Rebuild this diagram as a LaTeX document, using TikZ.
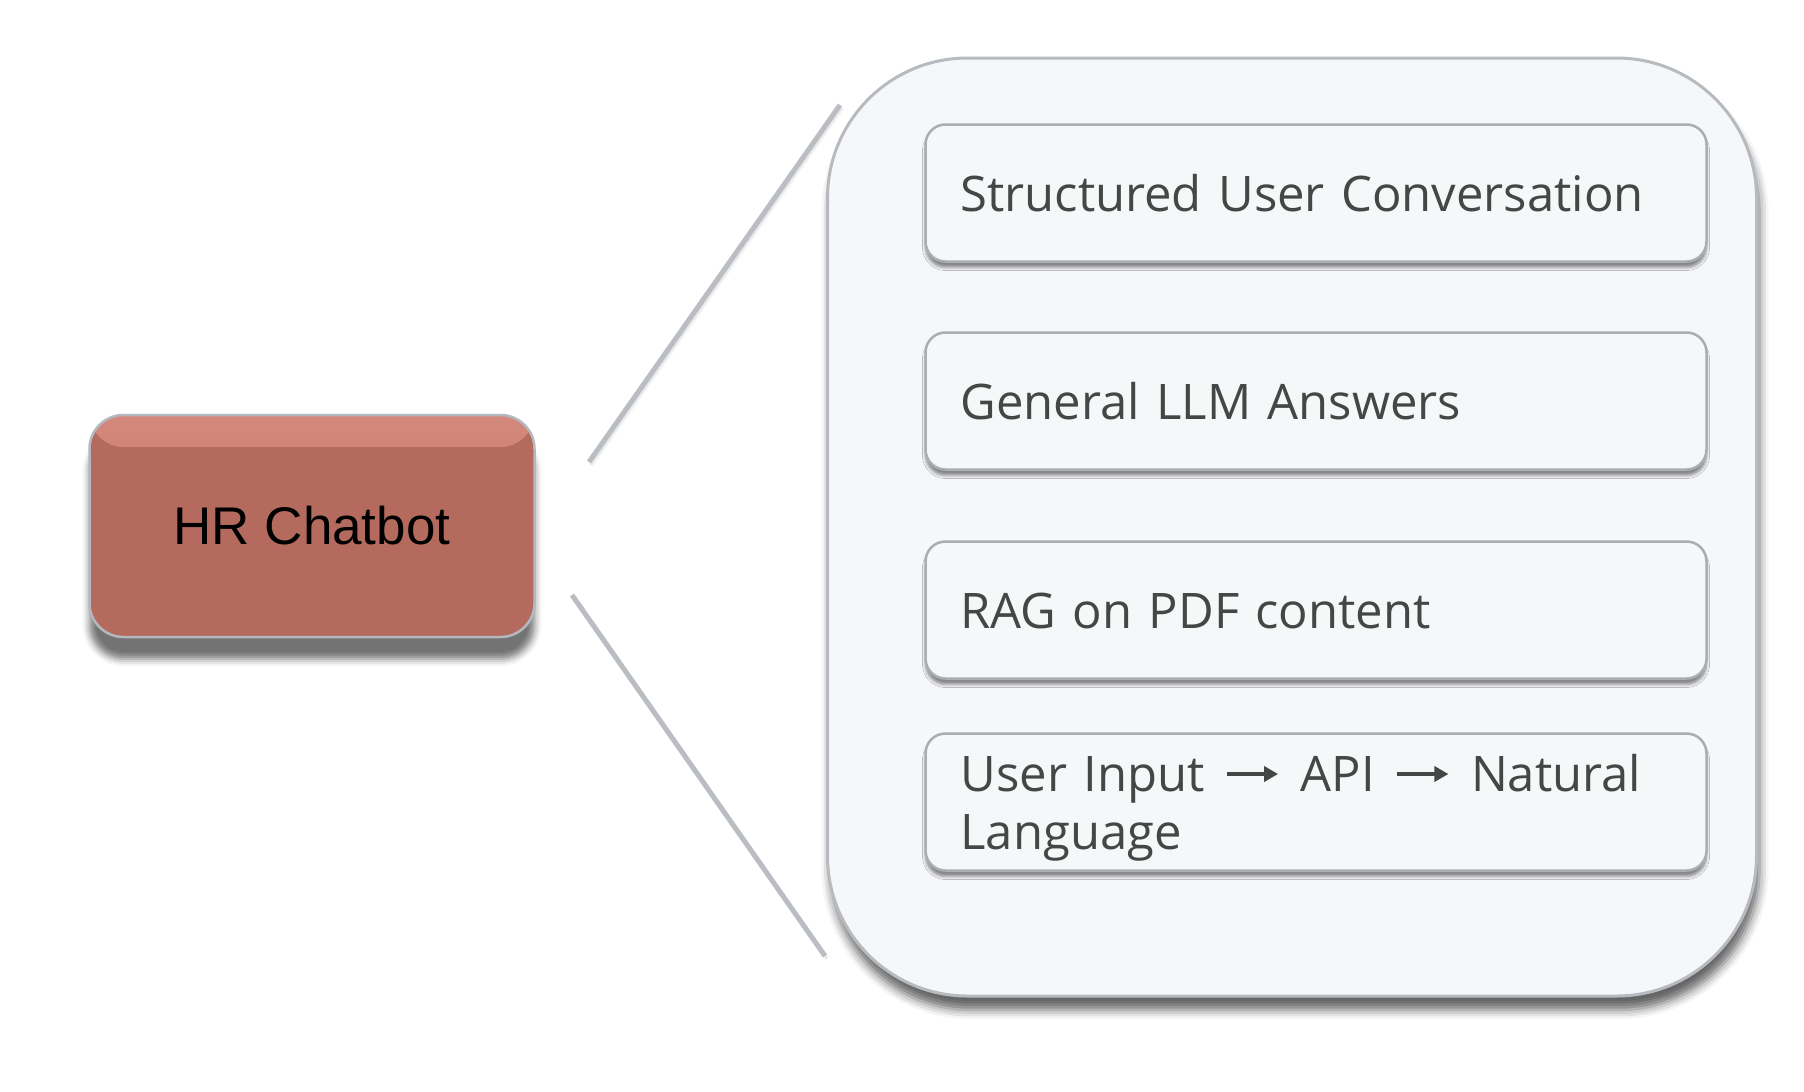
\documentclass[tikz,border=0pt]{standalone}
\usepackage{fontspec}
\setmainfont{Liberation Sans}
\newfontfamily\itemfont{Open Sans}
\usetikzlibrary{shadows.blur,arrows.meta}
\definecolor{hrfill}{HTML}{B46B5E}
\definecolor{hrtop}{HTML}{D4897C}
\definecolor{hredge}{HTML}{B3B8BF}
\definecolor{panelfill}{HTML}{F6F7F9}
\definecolor{paneledge}{HTML}{B7BABF}
\definecolor{itemedge}{HTML}{AAADB2}
\definecolor{itemtext}{HTML}{444746}
\definecolor{calloutline}{HTML}{BABDC2}
\newcommand{\arr}{\kern4pt\tikz[baseline=0pt]\draw[itemtext,line width=4.5pt,
  -{Triangle[length=14pt,width=15pt]}] (0pt,17pt) -- (51pt,17pt);\kern4pt}

\begin{document}
\begin{tikzpicture}[x=1pt,y=-1pt,
  hrbox/.style={draw=hredge,line width=2.5pt,fill=hrfill,rounded corners=34pt,
    minimum width=445pt,minimum height=222pt,
    font=\fontsize{53}{60}\selectfont,text=black,
    blur shadow={shadow xshift=0pt,shadow yshift=-22pt,shadow blur radius=7pt,shadow opacity=55},
    path picture={\fill[top color=hrtop,bottom color=hrfill]
      (path picture bounding box.north west) rectangle
      ([yshift=-32pt]path picture bounding box.north east);}},
  panel/.style={draw=paneledge,line width=3pt,fill=panelfill,rounded corners=140pt,
    minimum width=929pt,minimum height=938pt,
    blur shadow={shadow xshift=3pt,shadow yshift=-14pt,shadow blur radius=9pt,shadow opacity=60}},
  item/.style={draw=itemedge,line width=2.5pt,fill=panelfill,rounded corners=20pt,
    minimum width=781pt,minimum height=137pt,text width=711pt,align=left,
    inner xsep=35pt,inner ysep=0pt,text height=36pt,text depth=0pt,
    font=\itemfont\fontsize{49}{58}\selectfont,text=itemtext,
    blur shadow={shadow xshift=0pt,shadow yshift=-6pt,shadow blur radius=3pt,shadow opacity=45}},
  callout/.style={draw=calloutline,line width=5pt,
    blur shadow={shadow xshift=2pt,shadow yshift=-3pt,shadow blur radius=3pt,shadow opacity=20}}]
\useasboundingbox (0,0) rectangle (1804,1092);

% callout lines
\coordinate (upA) at (589,462);
\coordinate (upB) at (840,105);
\coordinate (loA) at (572,595);
\coordinate (loB) at (825,956);
\draw[callout] (upA) -- (upB);
\draw[callout] (loA) -- (loB);

\node[hrbox] (chatbot) at (312,526) {HR Chatbot};

\node[panel] (features) at (1292,527) {};

\node[item] (conv) at (1316,193) {Structured User Conversation};
\node[item] (llm) at (1316,401) {General LLM Answers};
\node[item] (rag) at (1316,610) {RAG on PDF content};
\node[item,text depth=58pt] (api) at (1316,802) {User Input \arr{} API \arr{} Natural\\Language};
\end{tikzpicture}
\end{document}
